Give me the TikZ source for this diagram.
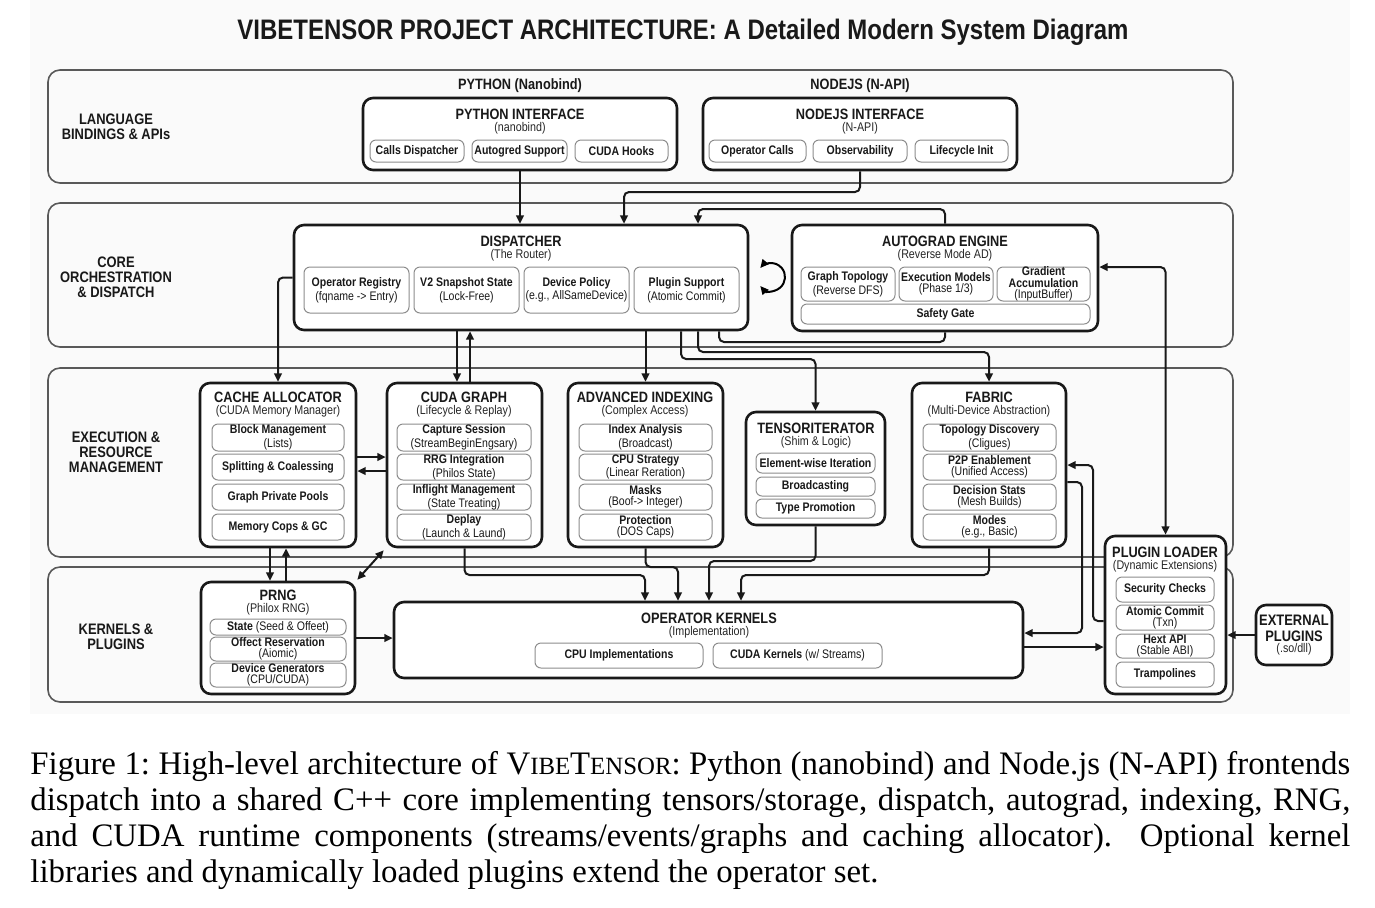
\documentclass[tikz,border=0pt]{standalone}
\usepackage{fontspec}
\setmainfont{Liberation Serif}
\newfontfamily\df[FakeStretch=0.85]{Liberation Sans}
\usetikzlibrary{arrows.meta,fit,calc}
\tikzset{
  band/.style={draw=black!65, line width=0.8pt, rounded corners=6pt, inner sep=0pt},
  mainbox/.style={draw=black!90, line width=1.3pt, rounded corners=5pt, fill=white, inner sep=0pt},
  subbox/.style={draw=black!45, line width=0.5pt, rounded corners=3pt, fill=white, inner sep=0pt},
  conn/.style={draw=black!90, line width=1pt, rounded corners=2.5pt},
  lbl/.style={font=\df\bfseries\fontsize{7.6}{7.4}\selectfont, align=center, text=black!90, inner sep=0pt},
  ttl/.style={font=\df\bfseries\fontsize{7.5}{8}\selectfont, inner sep=0pt, text=black!90},
  sttl/.style={font=\df\fontsize{6.3}{7}\selectfont, inner sep=0pt, text=black!85},
  stxt/.style={font=\df\fontsize{6.2}{5.7}\selectfont, align=center, inner sep=0pt, text=black!90},
}
\newcommand\BOX[6]{\node[#1, fit={(#3,#4) (#5,#6)}] (#2) {};}
\newcommand\SB[6]{\node[subbox, fit={(#2,#3) (#4,#5)}] (#1) {};
  \node[stxt] (#1-t) at (#1.center) {#6};}
\newcommand\sca[1]{{\fontsize{12.4}{18}\selectfont #1}}
\begin{document}
\begin{tikzpicture}[x=0.5pt,y=-0.5pt, >={Triangle[length=4.2pt,width=3.8pt]}]
\useasboundingbox (0,0) rectangle (1375,907);
\fill[black!2] (30,0) rectangle (1350,714);

% title
\node[font=\df\bfseries\fontsize{14.1}{16}\selectfont, text=black!90, inner sep=0pt] (title) at (683,32)
  {VIBETENSOR PROJECT ARCHITECTURE: A Detailed Modern System Diagram};

% bands
\BOX{band}{b1}{48}{70}{1233}{183}
\BOX{band}{b2}{48}{203}{1233}{347}
\BOX{band}{b3}{48}{368}{1233}{557}
\BOX{band}{b4}{48}{567}{1233}{702}
\node[lbl] (b1-l) at (116,127) {LANGUAGE\\BINDINGS \& APIs};
\node[lbl] (b2-l) at (116,277) {CORE\\ORCHESTRATION\\\& DISPATCH};
\node[lbl] (b3-l) at (116,452) {EXECUTION \&\\RESOURCE\\MANAGEMENT};
\node[lbl] (b4-l) at (116,637) {KERNELS \&\\PLUGINS};

% ---------- language bindings
\node[ttl] (pyhdr) at (520,86) {PYTHON (Nanobind)};
\node[ttl] (njhdr) at (860,86) {NODEJS (N-API)};
\BOX{mainbox}{py}{363}{98}{677}{170}
\node[ttl] (py-t) at (520,114) {PYTHON INTERFACE};
\node[sttl] (py-s) at (520,128) {(nanobind)};
\SB{py1}{370}{140}{464}{162}{\bfseries Calls Dispatcher}
\SB{py2}{472}{140}{567}{162}{\bfseries Autogred Support}
\SB{py3}{575}{140}{668}{162}{\bfseries CUDA Hooks}
\BOX{mainbox}{nj}{703}{98}{1017}{170}
\node[ttl] (nj-t) at (860,114) {NODEJS INTERFACE};
\node[sttl] (nj-s) at (860,128) {(N-API)};
\SB{nj1}{709}{140}{806}{162}{\bfseries Operator Calls}
\SB{nj2}{813}{140}{907}{162}{\bfseries Observability}
\SB{nj3}{915}{140}{1008}{162}{\bfseries Lifecycle Init}

% ---------- core
\BOX{mainbox}{disp}{294}{225}{748}{330}
\node[ttl] (disp-t) at (521,241) {DISPATCHER};
\node[sttl] (disp-s) at (521,255) {(The Router)};
\SB{d1}{304}{267}{409}{313}{{\bfseries Operator Registry}\\(fqname -> Entry)}
\SB{d2}{414}{267}{519}{313}{{\bfseries V2 Snapshot State}\\(Lock-Free)}
\SB{d3}{524}{267}{629}{313}{{\bfseries Device Policy}\\(e.g., AllSameDevice)}
\SB{d4}{634}{267}{739}{313}{{\bfseries Plugin Support}\\(Atomic Commit)}
\BOX{mainbox}{ag}{792}{225}{1098}{331}
\node[ttl] (ag-t) at (945,241) {AUTOGRAD ENGINE};
\node[sttl] (ag-s) at (945,255) {(Reverse Mode AD)};
\SB{a1}{801}{267}{895}{301}{{\bfseries Graph Topology}\\(Reverse DFS)}
\SB{a2}{899}{267}{993}{301}{{\bfseries Execution Models}\\(Phase 1/3)}
\SB{a3}{997}{267}{1090}{301}{{\bfseries Gradient}\\{\bfseries Accumulation}\\(InputBuffer)}
\SB{a4}{801}{304}{1090}{324}{\bfseries Safety Gate}
\coordinate (loopc) at (771,277);
\draw[line width=1pt, <->] ([shift={(140:14)}]loopc) arc (140:-140:14);

% ---------- execution
\BOX{mainbox}{cache}{200}{383}{356}{547}
\node[ttl] (cache-t) at (278,397) {CACHE ALLOCATOR};
\node[sttl] (cache-s) at (278,411) {(CUDA Memory Manager)};
\SB{c1}{212}{424}{344}{451}{{\bfseries Block Management}\\(Lists)}
\SB{c2}{212}{454}{344}{480}{\bfseries Splitting \& Coalessing}
\SB{c3}{212}{484}{344}{510}{\bfseries Graph Private Pools}
\SB{c4}{212}{514}{344}{540}{\bfseries Memory Cops \& GC}

\BOX{mainbox}{cg}{387}{383}{542}{547}
\node[ttl] (cg-t) at (464,397) {CUDA GRAPH};
\node[sttl] (cg-s) at (464,411) {(Lifecycle \& Replay)};
\SB{g1}{397}{424}{531}{451}{{\bfseries Capture Session}\\(StreamBeginEngsary)}
\SB{g2}{397}{454}{531}{480}{{\bfseries RRG Integration}\\(Philos State)}
\SB{g3}{397}{484}{531}{510}{{\bfseries Inflight Management}\\(State Treating)}
\SB{g4}{397}{514}{531}{540}{{\bfseries Deplay}\\(Launch \& Laund)}

\BOX{mainbox}{adv}{568}{383}{723}{547}
\node[ttl] (adv-t) at (645,397) {ADVANCED INDEXING};
\node[sttl] (adv-s) at (645,411) {(Complex Access)};
\SB{x1}{579}{424}{712}{451}{{\bfseries Index Analysis}\\(Broadcast)}
\SB{x2}{579}{454}{712}{480}{{\bfseries CPU Strategy}\\(Linear Reration)}
\SB{x3}{579}{484}{712}{510}{{\bfseries Masks}\\(Boof-> Integer)}
\SB{x4}{579}{514}{712}{540}{{\bfseries Protection}\\(DOS Caps)}

\BOX{mainbox}{ti}{746}{412}{885}{525}
\node[ttl] (ti-t) at (816,428) {TENSORITERATOR};
\node[sttl] (ti-s) at (816,442) {(Shim \& Logic)};
\SB{t1}{756}{453}{875}{473}{\bfseries Element-wise Iteration}
\SB{t2}{756}{477}{875}{496}{\bfseries Broadcasting}
\SB{t3}{756}{499}{875}{518}{\bfseries Type Promotion}

\BOX{mainbox}{fab}{912}{383}{1066}{547}
\node[ttl] (fab-t) at (989,397) {FABRIC};
\node[sttl] (fab-s) at (989,411) {(Multi-Device Abstraction)};
\SB{f1}{923}{424}{1056}{451}{{\bfseries Topology Discovery}\\(Cligues)}
\SB{f2}{923}{454}{1056}{480}{{\bfseries P2P Enablement}\\(Unified Access)}
\SB{f3}{923}{484}{1056}{510}{{\bfseries Decision Stats}\\(Mesh Builds)}
\SB{f4}{923}{514}{1056}{540}{{\bfseries Modes}\\(e.g., Basic)}

% ---------- kernels
\BOX{mainbox}{prng}{201}{582}{355}{694}
\node[ttl] (prng-t) at (278,595) {PRNG};
\node[sttl] (prng-s) at (278,609) {(Philox RNG)};
\SB{p1}{210}{619}{346}{635}{{\bfseries State} (Seed \& Offeet)}
\SB{p2}{210}{637}{346}{661}{{\bfseries Offect Reservation}\\(Aiomic)}
\SB{p3}{210}{663}{346}{687}{{\bfseries Device Generators}\\(CPU/CUDA)}

\BOX{mainbox}{opk}{394}{602}{1023}{678}
\node[ttl] (opk-t) at (709,618) {OPERATOR KERNELS};
\node[sttl] (opk-s) at (709,632) {(Implementation)};
\SB{k1}{535}{643}{703}{668}{\bfseries CPU Implementations}
\SB{k2}{713}{643}{882}{668}{{\bfseries CUDA Kernels} (w/ Streams)}

\BOX{mainbox}{pl}{1105}{536}{1226}{694}
\node[ttl] (pl-t) at (1165,552) {PLUGIN LOADER};
\node[sttl] (pl-s) at (1165,566) {(Dynamic Extensions)};
\SB{l1}{1116}{577}{1214}{602}{\bfseries Security Checks}
\SB{l2}{1116}{605}{1214}{630}{{\bfseries Atomic Commit}\\(Txn)}
\SB{l3}{1116}{634}{1214}{658}{{\bfseries Hext API}\\(Stable ABI)}
\SB{l4}{1116}{662}{1214}{687}{\bfseries Trampolines}

\BOX{mainbox}{ext}{1256}{605}{1332}{665}
\node[lbl, font=\df\bfseries\fontsize{7.6}{8}\selectfont] (ext-t) at (1294,628) {EXTERNAL\\PLUGINS};
\node[sttl] (ext-s) at (1294,649) {(.so/dll)};

% ---------- helper coordinates
\foreach \v in {270,286,457,470,624,645,678,681,698,709,719,741,1082,1093}
  {\coordinate (v\v) at (\v,0);}
\foreach \h in {192,209,267,342,352,359,457,465,471,482,561,567,575,621,633,638,647}
  {\coordinate (h\h) at (0,\h);}

% ---------- connectors
\draw[conn,->] (py.south) -- (py.south |- disp.north);
\draw[conn,->] (nj.south) -- (nj.south |- h192) -| (v624 |- disp.north);
\draw[conn,->] (ag.north) -- (ag.north |- h209) -| (v698 |- disp.north);
\draw[conn] (v719 |- disp.south) -- (v719 |- h342) -| (ag.south);
\draw[conn,<->] (ag.east |- h267) -| (pl.north);
\draw[conn,->] (disp.west) -| (cache.north);
\draw[conn,->] (v457 |- disp.south) -- (v457 |- cg.north);
\draw[conn,->] (v470 |- cg.north) -- (v470 |- disp.south);
\draw[conn,->] (adv.north |- disp.south) -- (adv.north);
\draw[conn,->] (v681 |- disp.south) -- (v681 |- h359) -| (ti.north);
\draw[conn,->] (v698 |- disp.south) -- (v698 |- h352) -| (fab.north);

\draw[conn,->] (cache.east |- h457) -- (cg.west |- h457);
\draw[conn,->] (cg.west |- h471) -- (cache.east |- h471);
\draw[conn,->] (v270 |- cache.south) -- (v270 |- prng.north);
\draw[conn,->] (v286 |- prng.north) -- (v286 |- cache.south);
\draw[conn,<->] ([shift={(1,-1)}]prng.north east) -- ([shift={(-2,2)}]cg.south west);

\draw[conn,->] (cg.south) -- (cg.south |- h575) -| (v645 |- opk.north);
\draw[conn,->] (adv.south) -- (adv.south |- h567) -| (v678 |- opk.north);
\draw[conn,->] (ti.south) -- (ti.south |- h561) -| (v709 |- opk.north);
\draw[conn,->] (fab.south) -- (fab.south |- h575) -| (v741 |- opk.north);
\draw[conn,->] (prng.east |- h638) -- (opk.west |- h638);

\draw[conn,->] (fab.east |- h482) -| (v1082 |- h633) -- (opk.east |- h633);
\draw[conn,->] (opk.east |- h647) -- (pl.west |- h647);
\draw[conn,->] (pl.west |- h621) -| (v1093 |- h465) -- (fab.east |- h465);
\draw[conn,->] (ext.west) -- (pl.east |- ext.west);

% ---------- caption
\node[anchor=north west, text width=660pt, align=justify, inner sep=0pt,
      font=\fontsize{16.4}{18}\selectfont\frenchspacing] (cap) at (30,751)
 {Figure 1: High-level architecture of V\sca{IBE}T\sca{ENSOR}: Python (nanobind) and Node.js (N-API) frontends\linebreak
  dispatch into a shared C++ core implementing tensors/storage, dispatch, autograd, indexing, RNG,\linebreak
  and CUDA runtime components (streams/events/graphs and caching allocator).\ \ Optional kernel\linebreak
  libraries and dynamically loaded plugins extend the operator set.};
\end{tikzpicture}
\end{document}
